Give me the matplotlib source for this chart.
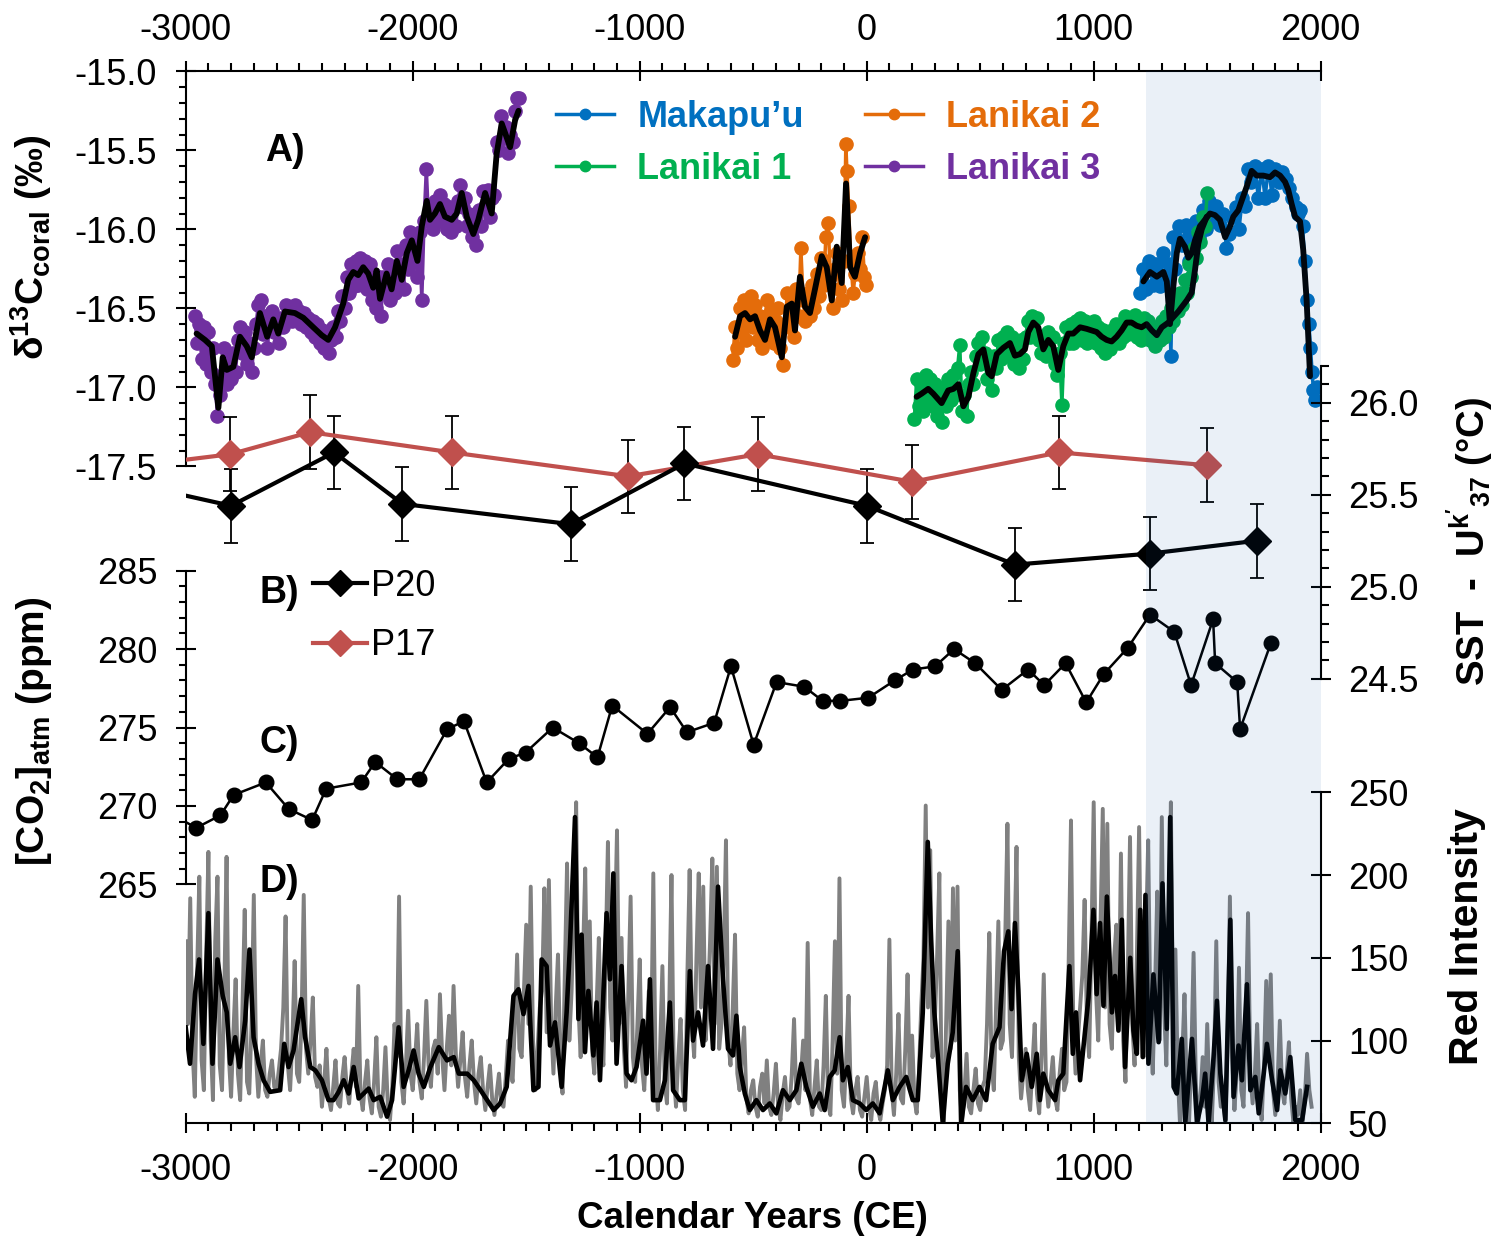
import numpy as np
import matplotlib
matplotlib.use('Agg')
import matplotlib.pyplot as plt
from matplotlib.ticker import FixedLocator, FormatStrFormatter
from matplotlib.lines import Line2D

plt.rcParams['font.family'] = ['Liberation Sans', 'DejaVu Sans']
plt.rcParams['mathtext.fontset'] = 'custom'
plt.rcParams['mathtext.rm'] = 'Liberation Sans'
plt.rcParams['mathtext.bf'] = 'Liberation Sans:bold'
plt.rcParams['mathtext.it'] = 'Liberation Sans:italic'
plt.rcParams['axes.unicode_minus'] = False

# ---------------- DATA ----------------
# A) coral d13C -- Lanikai 3 (10-yr samples from -2960)
l3_years = list(range(-2960, -1529, 10))
l3_vals = [-16.55, -16.72, -16.60, -16.82, -16.62, -16.85, -16.65, -16.90, -16.75, -16.98,
           -17.18, -17.05, -16.92, -16.75, -16.98, -16.80, -16.95, -16.78, -16.90, -16.70,
           -16.62, -16.78, -16.65, -16.85, -16.72, -16.90, -16.75, -16.60, -16.48, -16.45,
           -16.66, -16.55, -16.75, -16.58, -16.52, -16.65, -16.58, -16.72, -16.56, -16.62,
           -16.48, -16.56, -16.50, -16.58, -16.48, -16.57, -16.52, -16.60, -16.53, -16.62,
           -16.56, -16.65, -16.58, -16.68, -16.60, -16.72, -16.64, -16.75, -16.66, -16.78,
           -16.70, -16.62, -16.68, -16.52, -16.58, -16.42, -16.50, -16.30, -16.40, -16.22,
           -16.36, -16.20, -16.35, -16.18, -16.32, -16.20, -16.38, -16.22, -16.45, -16.28,
           -16.50, -16.30, -16.55, -16.30, -16.40, -16.22, -16.45, -16.30, -16.40, -16.14,
           -16.35, -16.22, -16.38, -16.10, -16.25, -16.02, -16.20, -16.05, -16.30, -16.02,
           -16.45, -15.95, -15.62, -15.95, -15.85, -16.00, -15.82, -15.95, -15.78, -15.95,
           -15.84, -16.00, -15.86, -16.02, -15.86, -15.98, -15.82, -15.72, -15.86, -15.80,
           -15.98, -15.90, -16.05, -15.95, -16.10, -15.88, -15.98, -15.76, -15.85, -15.75,
           -15.92, -15.80, -15.78, -15.45, -15.50, -15.28, -15.42, -15.35, -15.52, -15.40,
           -15.45, -15.25, -15.17, -15.17]
l3_smooth_years = [-2952, -2915, -2885, -2856, -2837, -2819, -2790, -2761, -2731, -2709, -2673, -2641, -2614, -2592,
                   -2563, -2519, -2482, -2438, -2401, -2372, -2342, -2306, -2284, -2262, -2240, -2218, -2196, -2174,
                   -2159, -2144, -2115, -2093, -2070, -2048, -2026, -2004, -1979, -1960, -1938, -1924, -1902, -1880,
                   -1858, -1828, -1806, -1784, -1762, -1733, -1711, -1681, -1652, -1630, -1608, -1593, -1571, -1549, -1534]
l3_smooth = [-16.66, -16.70, -16.74, -17.13, -16.81, -16.89, -16.87, -16.68, -16.74, -16.81, -16.53, -16.68, -16.57, -16.66,
             -16.52, -16.53, -16.56, -16.62, -16.67, -16.70, -16.62, -16.47, -16.32, -16.27, -16.29, -16.24, -16.28, -16.37,
             -16.26, -16.44, -16.28, -16.38, -16.20, -16.32, -16.15, -16.07, -16.20, -15.98, -15.82, -15.94, -15.90, -15.84,
             -15.92, -15.94, -15.90, -15.77, -15.92, -16.03, -15.94, -15.77, -15.90, -15.52, -15.33, -15.39, -15.48, -15.31, -15.25]

# Lanikai 2
l2_years = [-590, -580, -570, -560, -550, -540, -530, -520, -510, -500, -490, -480, -470, -460, -450, -440,
            -430, -420, -410, -400, -390, -380, -370, -360, -350, -340, -330, -320, -310, -300, -290, -280,
            -270, -260, -250, -240, -230, -220, -210, -200, -190, -180, -170, -160, -150, -140, -130, -120,
            -110, -100, -92, -87, -80, -70, -60, -50, -40, -30, -20, -10, -3]
l2_vals = [-16.83, -16.62, -16.75, -16.50, -16.65, -16.45, -16.70, -16.52, -16.42, -16.62, -16.48, -16.70,
           -16.55, -16.75, -16.60, -16.45, -16.68, -16.52, -16.72, -16.58, -16.50, -16.75, -16.86, -16.62,
           -16.40, -16.58, -16.45, -16.68, -16.38, -16.55, -16.12, -16.45, -16.58, -16.40, -16.55, -16.35,
           -16.50, -16.28, -16.42, -16.18, -16.35, -16.05, -15.96, -16.30, -16.50, -16.25, -16.15, -16.38,
           -16.45, -16.20, -15.46, -15.63, -15.85, -16.20, -16.40, -16.28, -16.15, -16.25, -16.05, -16.30, -16.35]
l2_smooth_years = [-580, -558, -536, -514, -492, -470, -448, -426, -404, -374, -352, -330, -316, -294, -272, -250,
                   -228, -198, -176, -154, -132, -110, -91, -73, -52, -29, -7]
l2_smooth = [-16.68, -16.55, -16.53, -16.57, -16.55, -16.64, -16.70, -16.57, -16.62, -16.81, -16.49, -16.47, -16.64,
             -16.30, -16.49, -16.53, -16.38, -16.17, -16.24, -16.45, -16.11, -16.34, -15.71, -16.24, -16.30, -16.15, -16.05]

# Lanikai 1 (10-yr samples from 210)
l1_years = list(range(210, 1501, 10))
l1_vals = [-17.20, -16.95, -17.12, -16.98, -17.15, -16.92, -17.08, -16.95, -17.12, -16.98,
           -17.18, -17.02, -17.22, -17.00, -17.12, -16.95, -17.08, -16.92, -17.05, -16.88,
           -16.73, -17.15, -17.05, -17.18, -16.98, -16.90, -16.98, -16.80, -16.72, -16.85,
           -16.68, -16.78, -16.95, -16.85, -17.02, -16.80, -16.88, -16.70, -16.82, -16.68,
           -16.80, -16.65, -16.78, -16.68, -16.85, -16.72, -16.88, -16.70, -16.82, -16.68,
           -16.58, -16.68, -16.55, -16.66, -16.56, -16.70, -16.78, -16.68, -16.80, -16.65,
           -16.78, -16.68, -16.85, -16.92, -16.78, -17.11, -16.72, -16.62, -16.72, -16.60,
           -16.72, -16.58, -16.68, -16.56, -16.70, -16.58, -16.72, -16.60, -16.70, -16.58,
           -16.72, -16.62, -16.75, -16.64, -16.78, -16.66, -16.76, -16.64, -16.72, -16.60,
           -16.72, -16.62, -16.68, -16.55, -16.66, -16.56, -16.64, -16.54, -16.68, -16.58,
           -16.70, -16.56, -16.68, -16.58, -16.70, -16.62, -16.74, -16.64, -16.70, -16.58,
           -16.68, -16.55, -16.62, -16.50, -16.58, -16.45, -16.52, -16.40, -16.48, -16.32,
           -16.40, -16.22, -16.30, -16.12, -16.18, -16.02, -16.08, -15.92, -15.98, -15.77]
l1_smooth_years = [220, 242, 271, 293, 330, 359, 382, 404, 426, 448, 470, 492, 514, 536, 551, 573, 602, 631, 653, 675,
                   697, 712, 734, 756, 778, 800, 822, 844, 866, 888, 910, 940, 969, 991, 1013, 1035, 1057, 1079, 1101,
                   1123, 1145, 1167, 1189, 1211, 1233, 1256, 1278, 1300, 1329, 1373, 1410, 1432, 1446, 1461, 1476, 1498]
l1_smooth = [-17.06, -17.04, -17.01, -17.04, -17.10, -17.02, -17.01, -16.98, -17.12, -17.06, -16.91, -16.79, -16.76,
             -16.91, -16.93, -16.79, -16.75, -16.72, -16.80, -16.79, -16.76, -16.65, -16.59, -16.62, -16.76, -16.70,
             -16.74, -16.89, -16.74, -16.66, -16.66, -16.62, -16.63, -16.64, -16.65, -16.68, -16.70, -16.71, -16.68,
             -16.64, -16.59, -16.59, -16.61, -16.62, -16.60, -16.64, -16.67, -16.62, -16.59, -16.52, -16.45, -16.40,
             -16.26, -16.09, -16.00, -15.92]

# Makapu'u
mak_years = [1205, 1215, 1230, 1245, 1260, 1275, 1290, 1305, 1320, 1330, 1340, 1350, 1360, 1375, 1390, 1405, 1420,
             1435, 1450, 1465, 1480, 1495, 1510, 1525, 1540, 1555, 1570, 1585, 1595, 1610, 1625, 1640, 1655, 1665,
             1680, 1695, 1710, 1725, 1740, 1755, 1770, 1785, 1800, 1815, 1830, 1845, 1860, 1875, 1890, 1900, 1910,
             1920, 1930, 1940, 1948, 1955, 1962, 1968, 1975, 1985]
mak_vals = [-16.40, -16.25, -16.38, -16.20, -16.35, -16.22, -16.36, -16.15, -16.30, -16.22, -16.80, -16.05, -16.25,
            -15.98, -16.10, -15.97, -16.20, -16.05, -15.95, -16.05, -15.88, -16.00, -15.82, -15.95, -15.85, -15.97,
            -15.90, -16.12, -16.03, -15.92, -15.86, -16.00, -15.80, -15.85, -15.62, -15.70, -15.60, -15.80, -15.62,
            -15.80, -15.60, -15.78, -15.62, -15.70, -15.64, -15.68, -15.74, -15.80, -15.86, -15.90, -15.88, -15.98,
            -16.20, -16.45, -16.60, -16.75, -16.90, -17.02, -17.08, -17.00]
mak_smooth_years = [1219, 1248, 1278, 1307, 1322, 1336, 1351, 1366, 1380, 1402, 1417, 1432, 1446, 1468, 1490, 1512,
                    1534, 1556, 1579, 1601, 1615, 1637, 1659, 1674, 1696, 1718, 1747, 1777, 1799, 1821, 1843, 1857,
                    1872, 1887, 1909, 1923, 1938, 1953]
mak_smooth = [-16.33, -16.27, -16.30, -16.27, -16.33, -16.60, -16.36, -16.15, -16.06, -16.11, -16.18, -16.15, -16.07,
              -15.98, -15.94, -15.90, -15.91, -15.94, -16.05, -15.98, -15.92, -15.88, -15.79, -15.73, -15.63, -15.66,
              -15.66, -15.67, -15.64, -15.66, -15.70, -15.75, -15.84, -15.92, -15.95, -16.13, -16.45, -16.93]

# B) SST (Uk'37)
p20_years = [-3200, -2800, -2346, -2045, -1304, -803, 0, 653, 1248, 1718]
p20_sst = [25.55, 25.44, 25.73, 25.45, 25.34, 25.67, 25.44, 25.12, 25.18, 25.25]
p20_err = [0.2, 0.2, 0.2, 0.2, 0.2, 0.2, 0.2, 0.2, 0.2, 0.2]
p17_years = [-3200, -2803, -2452, -1828, -1050, -480, 201, 848, 1500]
p17_sst = [25.66, 25.72, 25.84, 25.73, 25.60, 25.72, 25.57, 25.73, 25.66]
p17_err = [0.2, 0.2, 0.2, 0.2, 0.2, 0.2, 0.2, 0.2, 0.2]

# C) CO2
co2_years = [-3040, -2954, -2847, -2789, -2647, -2546, -2443, -2381, -2227, -2165, -2068, -1971, -1848, -1774,
             -1674, -1577, -1503, -1383, -1267, -1186, -1121, -966, -866, -792, -672, -598, -498, -397, -275,
             -194, -116, 7, 123, 204, 301, 385, 478, 595, 711, 782, 876, 967, 1044, 1151, 1248, 1355, 1429,
             1526, 1535, 1632, 1645, 1781]
co2_vals = [269.3, 268.6, 269.4, 270.7, 271.5, 269.8, 269.1, 271.1, 271.5, 272.8, 271.7, 271.7, 274.9, 275.4,
            271.5, 273.0, 273.4, 275.0, 274.0, 273.1, 276.4, 274.6, 276.3, 274.7, 275.3, 278.9, 273.9, 277.9,
            277.6, 276.7, 276.7, 276.9, 278.0, 278.7, 278.9, 280.0, 279.1, 277.4, 278.7, 277.7, 279.1, 276.6,
            278.4, 280.1, 282.2, 281.1, 277.7, 281.9, 279.1, 277.9, 274.9, 280.4]

# D) Red intensity raw (10-yr steps from -3000), one row per century
red_raw_years = list(range(-3000, 1961, 10))
red_raw = [
    160, 110, 186, 95, 66, 140, 199, 88, 70, 150,
    214, 100, 64, 160, 199, 85, 70, 130, 211, 90,
    66, 105, 137, 80, 64, 120, 179, 75, 68, 110,
    188, 90, 66, 85, 100, 70, 66, 80, 88, 72,
    70, 82, 95, 120, 175, 85, 70, 100, 148, 80,
    75, 110, 188, 95, 80, 100, 126, 78, 72, 85,
    60, 75, 95, 65, 58, 72, 88, 62, 60, 78,
    90, 70, 62, 80, 95, 72, 133, 68, 58, 75,
    88, 65, 56, 75, 102, 60, 54, 70, 96, 62,
    52, 72, 110, 90, 187, 75, 62, 85, 118, 80,
    70, 88, 110, 75, 65, 90, 124, 85, 72, 95,
    100, 80, 128, 90, 70, 95, 115, 85, 133, 92,
    72, 88, 105, 78, 66, 85, 100, 75, 62, 80,
    90, 70, 58, 72, 85, 65, 55, 68, 80, 62,
    60, 78, 100, 85, 75, 110, 152, 95, 90, 130,
    170, 110, 193, 100, 70, 95, 120, 130, 192, 105,
    197, 110, 80, 120, 152, 90, 68, 140, 207, 100,
    130, 180, 244, 120, 90, 150, 204, 110, 172, 95,
    80, 120, 162, 100, 85, 150, 220, 120, 100, 160,
    227, 110, 162, 95, 72, 130, 187, 90, 75, 110,
    149, 85, 70, 100, 130, 90, 201, 80, 58, 95,
    145, 75, 62, 120, 200, 80, 60, 90, 113, 70,
    58, 140, 203, 110, 90, 150, 201, 120, 193, 100,
    120, 160, 210, 110, 205, 95, 110, 150, 221, 100,
    85, 120, 164, 80, 70, 90, 108, 65, 56, 70,
    76, 60, 54, 72, 80, 62, 88, 60, 55, 68,
    86, 60, 52, 68, 78, 58, 60, 80, 113, 65,
    62, 78, 100, 70, 159, 65, 55, 72, 88, 60,
    58, 85, 127, 62, 55, 100, 160, 80, 198, 70,
    60, 90, 127, 65, 56, 70, 78, 58, 54, 66,
    78, 60, 52, 68, 75, 58, 52, 62, 70, 85,
    161, 70, 55, 80, 116, 65, 62, 95, 140, 70,
    103, 65, 56, 80, 120, 150, 242, 120, 215, 90,
    110, 150, 201, 70, 50, 110, 172, 95, 192, 100,
    193, 70, 50, 68, 92, 60, 56, 70, 83, 62,
    58, 72, 76, 110, 165, 85, 70, 120, 172, 95,
    100, 160, 231, 110, 90, 150, 217, 90, 65, 80,
    95, 70, 58, 85, 110, 68, 56, 90, 140, 75,
    60, 75, 90, 65, 58, 80, 95, 70, 75, 150,
    233, 110, 80, 100, 120, 140, 185, 110, 90, 160,
    244, 130, 100, 170, 240, 120, 231, 110, 95, 150,
    170, 110, 213, 100, 75, 140, 223, 110, 85, 150,
    229, 120, 90, 160, 221, 110, 80, 130, 190, 100,
    235, 120, 85, 160, 244, 100, 155, 80, 50, 90,
    128, 70, 50, 90, 153, 75, 50, 65, 90, 60,
    110, 65, 50, 85, 160, 75, 60, 70, 50, 100,
    187, 90, 58, 80, 144, 70, 60, 110, 177, 80,
    62, 80, 110, 65, 52, 85, 136, 90, 140, 70,
    55, 75, 112, 70, 62, 80, 99, 65, 50, 60,
    55, 70, 50, 65, 92, 70, 60]

red_smooth_years = [-3000, -2981, -2959, -2941, -2922, -2900, -2882, -2860, -2837, -2819, -2804, -2782, -2763, -2738,
                    -2719, -2701, -2679, -2657, -2628, -2584, -2566, -2547, -2525, -2491, -2474, -2451, -2429, -2400,
                    -2371, -2349, -2326, -2304, -2282, -2260, -2238, -2216, -2194, -2172, -2143, -2113, -2091, -2062,
                    -2040, -2018, -1996, -1974, -1951, -1922, -1885, -1849, -1819, -1797, -1760, -1731, -1701, -1672,
                    -1643, -1615, -1586, -1556, -1534, -1512, -1490, -1468, -1446, -1432, -1410, -1395, -1373, -1344,
                    -1322, -1307, -1285, -1270, -1256, -1241, -1226, -1204, -1190, -1175, -1146, -1131, -1116, -1102,
                    -1080, -1058, -1036, -1014, -985, -970, -955, -941, -911, -889, -867, -853, -823, -801, -779, -765,
                    -743, -721, -699, -677, -655, -633, -611, -589, -574, -559, -537, -515, -486, -457, -427, -398,
                    -369, -339, -310, -288, -266, -237, -207, -185, -163, -141, -119, -105, -83, -61, -31, -2, 27, 57,
                    93, 115, 145, 174, 203, 225, 247, 269, 284, 298, 313, 335, 357, 379, 401, 416, 438, 467, 497, 526,
                    555, 585, 605, 624, 638, 653, 668, 683, 705, 727, 749, 763, 778, 800, 830, 844, 866, 893, 908, 922,
                    940, 962, 977, 999, 1013, 1028, 1043, 1058, 1080, 1094, 1109, 1124, 1138, 1161, 1175, 1190, 1205,
                    1216, 1228, 1241, 1263, 1286, 1303, 1322, 1337, 1352, 1366, 1388, 1403, 1433, 1455, 1477, 1491,
                    1506, 1528, 1543, 1558, 1580, 1602, 1616, 1638, 1653, 1675, 1690, 1712, 1727, 1749, 1763, 1786,
                    1808, 1822, 1844, 1866, 1888, 1918, 1940]
red_smooth = [108, 86, 128, 149, 98, 177, 86, 149, 127, 117, 86, 102, 84, 112,
              155, 102, 86, 76, 69, 70, 98, 84, 94, 125, 102, 84, 82, 76,
              64, 64, 69, 76, 68, 84, 65, 68, 71, 64, 66, 54, 64, 108,
              72, 82, 94, 80, 72, 84, 96, 88, 90, 80, 80, 76, 70, 64,
              58, 62, 72, 127, 131, 116, 133, 70, 72, 149, 145, 97, 111, 72,
              117, 158, 235, 113, 164, 93, 130, 91, 123, 76, 177, 137, 201, 86,
              145, 80, 76, 84, 112, 80, 137, 64, 64, 76, 123, 70, 64, 64, 142, 100,
              117, 97, 145, 95, 193, 137, 95, 91, 115, 84, 68, 58, 64, 58, 62, 56,
              70, 64, 70, 86, 72, 60, 68, 58, 78, 82, 102, 76, 84, 64, 62, 58, 62, 56,
              82, 64, 72, 78, 64, 64, 117, 220, 160, 117, 91, 50, 86, 105, 154, 50, 72, 64, 72, 64,
              98, 108, 154, 166, 119, 171, 131, 76, 92, 72, 92, 64, 80, 70, 64, 76, 80, 145, 92, 117,
              76, 106, 126, 179, 128, 171, 121, 187, 117, 139, 106, 173, 84, 150, 106, 92, 179,
              90, 188, 86, 140, 99, 195, 107, 235, 72, 68, 101, 50, 101, 50, 64, 80,
              50, 90, 124, 80, 52, 173, 66, 97, 76, 134, 70, 78, 56, 80, 98, 76,
              58, 82, 68, 90, 52, 52, 72]

x_ticks = [-3000, -2000, -1000, 0, 1000, 2000]
d13c_ticks = [-17.5, -17.0, -16.5, -16.0, -15.5, -15.0]
co2_ticks = [265, 270, 275, 280, 285]
sst_ticks = [24.5, 25.0, 25.5, 26.0]
red_ticks = [50, 100, 150, 200, 250]

# ---------------- FIGURE ----------------
W, H = 1507, 1236
fig = plt.figure(figsize=(W / 100, H / 100), dpi=100)
L, R, T, B = 185.7, 1320.7, 71.3, 1123.3
pos = [L / W, 1 - B / H, (R - L) / W, (B - T) / H]

FS = 26
TL = 15
TW = 1.5

ax0 = fig.add_axes(pos)
ax1 = ax0.twinx()
ax2 = ax0.twinx()
ax3 = ax0.twinx()

ax0.set_xlim(-3000, 2000)
ax0.set_ylim(50, 685.65)
ax1.set_ylim(-21.658, -15.0)
ax2.set_ylim(249.76, 316.85)
ax3.set_ylim(22.084, 27.801)

for a in (ax0, ax1, ax2, ax3):
    for s in a.spines.values():
        s.set_visible(False)
        s.set_linewidth(1.5)

# shaded period: translucent blue overlay on top of everything
ax3.axvspan(1230, 2000, color='#0E53A3', alpha=0.087, lw=0, zorder=10)

# bottom x axis
ax0.spines['bottom'].set_visible(True)
ax0.xaxis.set_major_locator(FixedLocator(x_ticks))
ax0.xaxis.set_minor_locator(FixedLocator(list(range(-3000, 2001, 100))))
ax0.xaxis.set_major_formatter(FormatStrFormatter('%d'))
ax0.tick_params(axis='x', which='major', direction='inout', length=TL, width=TW, top=False, bottom=True,
                labeltop=False, labelbottom=True, labelsize=FS, pad=14)
ax0.tick_params(axis='x', which='minor', direction='out', length=6, width=TW, top=False, bottom=True)

# top x axis
sec = ax0.secondary_xaxis('top')
sec.spines['top'].set_linewidth(1.5)
sec.xaxis.set_major_locator(FixedLocator(x_ticks))
sec.xaxis.set_minor_locator(FixedLocator(list(range(-3000, 2001, 100))))
sec.xaxis.set_major_formatter(FormatStrFormatter('%d'))
sec.tick_params(axis='x', which='major', direction='inout', length=TL, width=TW, labelsize=FS, pad=9.5)
sec.tick_params(axis='x', which='minor', direction='out', length=6, width=TW)

# red intensity axis (right, lower)
ax0.spines['right'].set_visible(True)
ax0.spines['right'].set_bounds(50, 250)
ax0.yaxis.tick_right()
ax0.yaxis.set_major_locator(FixedLocator(red_ticks))
ax0.tick_params(axis='y', which='major', direction='inout', length=TL, width=TW, labelsize=FS,
                left=False, right=True, labelleft=False, labelright=True, pad=12)

# d13C axis (left, upper)
ax1.spines['left'].set_visible(True)
ax1.spines['left'].set_bounds(-17.5, -15.0)
ax1.yaxis.tick_left()
ax1.yaxis.set_major_locator(FixedLocator(d13c_ticks))
ax1.yaxis.set_minor_locator(FixedLocator([round(-17.5 + 0.1 * i, 1) for i in range(26)]))
ax1.yaxis.set_major_formatter(FormatStrFormatter('%.1f'))
ax1.tick_params(axis='y', which='major', direction='inout', length=TL, width=TW, labelsize=FS, pad=13,
                left=True, right=False, labelleft=True, labelright=False)
ax1.tick_params(axis='y', which='minor', direction='out', length=5, width=TW, left=True, right=False)

# CO2 axis (left, middle)
ax2.spines['left'].set_visible(True)
ax2.spines['left'].set_bounds(265, 285)
ax2.yaxis.tick_left()
ax2.yaxis.set_major_locator(FixedLocator(co2_ticks))
ax2.yaxis.set_minor_locator(FixedLocator(list(range(265, 286))))
ax2.tick_params(axis='y', which='major', direction='inout', length=TL, width=TW, labelsize=FS, pad=13,
                left=True, right=False, labelleft=True, labelright=False)
ax2.tick_params(axis='y', which='minor', direction='out', length=5, width=TW, left=True, right=False)

# SST axis (right, upper-middle)
ax3.spines['right'].set_visible(True)
ax3.spines['right'].set_bounds(24.5, 26.2)
ax3.yaxis.tick_right()
ax3.yaxis.set_major_locator(FixedLocator(sst_ticks))
ax3.yaxis.set_minor_locator(FixedLocator([round(24.5 + 0.1 * i, 1) for i in range(18)]))
ax3.yaxis.set_major_formatter(FormatStrFormatter('%.1f'))
ax3.tick_params(axis='y', which='major', direction='inout', length=TL, width=TW, labelsize=FS, pad=12,
                left=False, right=True, labelleft=False, labelright=True)
ax3.tick_params(axis='y', which='minor', direction='out', length=6, width=TW, left=False, right=True)

# ---- D) red intensity
ax0.plot(red_raw_years, red_raw, color='#808080', lw=2.8, zorder=2)
ax0.plot(red_smooth_years, red_smooth, color='black', lw=3.3, zorder=3)

# ---- A) corals
c_mak, c_l1, c_l2, c_l3 = '#0070C0', '#00B050', '#E46C0A', '#7030A0'
cms = 9.5
clw = 2.5
ax1.plot(l3_years, l3_vals, color=c_l3, lw=clw, marker='o', ms=cms, zorder=2)
ax1.plot(l2_years, l2_vals, color=c_l2, lw=clw, marker='o', ms=cms, zorder=2)
ax1.plot(mak_years, mak_vals, color=c_mak, lw=clw, marker='o', ms=cms, zorder=2)
ax1.plot(l1_years, l1_vals, color=c_l1, lw=clw, marker='o', ms=cms, zorder=2)
for yy, vv in ((l3_smooth_years, l3_smooth), (l2_smooth_years, l2_smooth),
               (l1_smooth_years, l1_smooth), (mak_smooth_years, mak_smooth)):
    ax1.plot(yy, vv, color='black', lw=4.2, zorder=3, solid_joinstyle='round', solid_capstyle='round')

coral_handles = [Line2D([], [], color=c, lw=2.5, marker='o', ms=7.5) for c in (c_mak, c_l1, c_l2, c_l3)]
coral_labels = ['Makapu\u2019u', 'Lanikai 1', 'Lanikai 2', 'Lanikai 3']
leg1 = ax1.legend(coral_handles, coral_labels, ncol=2, loc='upper left',
                  bbox_to_anchor=(556 / W, 1 - 100 / H), bbox_transform=fig.transFigure,
                  frameon=False, prop={'size': FS, 'weight': 'bold'}, handlelength=1.6,
                  handletextpad=0.65, columnspacing=1.7, labelspacing=0.47, borderpad=0, borderaxespad=0)
for t, c in zip(leg1.get_texts(), (c_mak, c_l1, c_l2, c_l3)):
    t.set_color(c)

# ---- B) SST
c_p17 = '#C0504D'
ax3.errorbar(p17_years, p17_sst, yerr=p17_err, fmt='none', ecolor='black', elinewidth=1.3,
             capsize=5, capthick=1.3, zorder=2)
ax3.errorbar(p20_years, p20_sst, yerr=p20_err, fmt='none', ecolor='black', elinewidth=1.3,
             capsize=5, capthick=1.3, zorder=2)
ax3.plot(p17_years, p17_sst, color=c_p17, lw=3, marker='D', ms=14, zorder=3)
ax3.plot(p20_years, p20_sst, color='black', lw=3, marker='D', ms=14, zorder=4)
sst_handles = [Line2D([], [], color='black', lw=3, marker='D', ms=13),
               Line2D([], [], color=c_p17, lw=3, marker='D', ms=13)]
leg2 = ax3.legend(sst_handles, ['P20', 'P17'], loc='upper left',
                  bbox_to_anchor=(313 / W, 1 - 569 / H), bbox_transform=fig.transFigure,
                  frameon=False, prop={'size': FS}, handlelength=1.5, handletextpad=0.12,
                  labelspacing=0.67, borderpad=0, borderaxespad=0)

# ---- C) CO2
ax2.plot(co2_years, co2_vals, color='black', lw=1.8, marker='o', ms=10.5, zorder=3)

# ---- text
fig.text(31 / W, 1 - 247 / H, r'$\mathbf{\delta^{13}C_{coral}}$ (‰)', rotation=90, ha='center',
         va='center', fontsize=28, fontweight='bold')
fig.text(34 / W, 1 - 731 / H, r'$\mathbf{[CO_2]_{atm}}$ (ppm)', rotation=90, ha='center',
         va='center', fontsize=28, fontweight='bold')
fig.text(1470 / W, 1 - 541 / H, r"SST  -  $\mathbf{U^{k'}{}_{37}}$ (°C)", rotation=90, ha='center',
         va='center', fontsize=27.5, fontweight='bold')
fig.text(1467 / W, 1 - 937 / H, 'Red Intensity', rotation=90, ha='center', va='center',
         fontsize=29.5, fontweight='bold')
fig.text(752 / W, 1 - 1218 / H, 'Calendar Years (CE)', ha='center', va='center',
         fontsize=26.5, fontweight='bold')

for lab, (x, y) in {'A)': (285, 151), 'B)': (279, 593), 'C)': (279, 743), 'D)': (279, 882)}.items():
    fig.text(x / W, 1 - y / H, lab, ha='center', va='center', fontsize=27, fontweight='bold')

fig.savefig('out.png', dpi=100)
